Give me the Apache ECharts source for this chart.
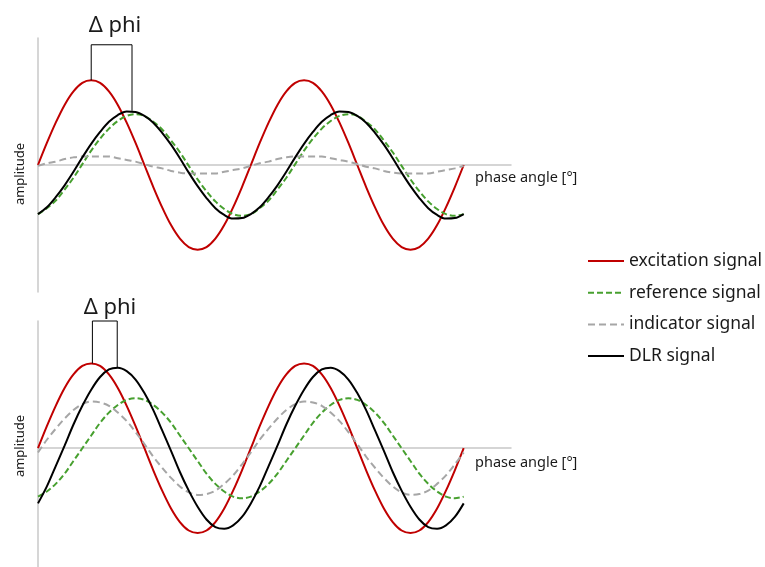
<!DOCTYPE html>
<html>
<head>
<meta charset="utf-8">
<script src="https://cdn.jsdelivr.net/npm/echarts@6/dist/echarts.min.js"></script>
<style>
html,body{margin:0;padding:0;background:#fff;}
#chart{width:765px;height:567px;}
</style>
</head>
<body>
<div id="chart"></div>
<script>
// phase angle samples [°]
const phaseDeg = [0,15,30,45,60,75,90,105,120,135,150,165,180,195,210,225,240,255,270,285,300,315,330,345,
                  360,375,390,405,420,435,450,465,480,495,510,525,540,555,570,585,600,615,630,645,660,675,690,705,720];

// top panel (amplitude, relative units)
const topExcitation = [0,0.26,0.5,0.71,0.87,0.97,1,0.97,0.87,0.71,0.5,0.26,0,-0.26,-0.5,-0.71,-0.87,-0.97,-1,-0.97,-0.87,-0.71,-0.5,-0.26,
                       0,0.26,0.5,0.71,0.87,0.97,1,0.97,0.87,0.71,0.5,0.26,0,-0.26,-0.5,-0.71,-0.87,-0.97,-1,-0.97,-0.87,-0.71,-0.5,-0.26,0];
const topReference  = [-0.58,-0.51,-0.42,-0.29,-0.15,0.01,0.17,0.31,0.43,0.52,0.58,0.60,0.58,0.51,0.42,0.29,0.15,-0.01,-0.17,-0.31,-0.43,-0.52,-0.58,-0.60,
                       -0.58,-0.51,-0.42,-0.29,-0.15,0.01,0.17,0.31,0.43,0.52,0.58,0.60,0.58,0.51,0.42,0.29,0.15,-0.01,-0.17,-0.31,-0.43,-0.52,-0.58,-0.60,-0.58];
const topIndicator  = [-0.01,0.02,0.04,0.07,0.09,0.10,0.10,0.10,0.10,0.08,0.06,0.04,0.01,-0.02,-0.04,-0.07,-0.09,-0.10,-0.10,-0.10,-0.10,-0.08,-0.06,-0.04,
                       -0.01,0.02,0.04,0.07,0.09,0.10,0.10,0.10,0.10,0.08,0.06,0.04,0.01,-0.02,-0.04,-0.07,-0.09,-0.10,-0.10,-0.10,-0.10,-0.08,-0.06,-0.04,-0.01];
const topDLR        = [-0.58,-0.50,-0.38,-0.24,-0.08,0.09,0.25,0.39,0.51,0.59,0.633,0.627,0.58,0.50,0.38,0.24,0.08,-0.09,-0.25,-0.39,-0.51,-0.59,-0.633,-0.627,
                       -0.58,-0.50,-0.38,-0.24,-0.08,0.09,0.25,0.39,0.51,0.59,0.633,0.627,0.58,0.50,0.38,0.24,0.08,-0.09,-0.25,-0.39,-0.51,-0.59,-0.633,-0.627,-0.58];

// bottom panel
const bottomExcitation = [0,0.26,0.5,0.71,0.87,0.97,1,0.97,0.87,0.71,0.5,0.26,0,-0.26,-0.5,-0.71,-0.87,-0.97,-1,-0.97,-0.87,-0.71,-0.5,-0.26,
                          0,0.26,0.5,0.71,0.87,0.97,1,0.97,0.87,0.71,0.5,0.26,0,-0.26,-0.5,-0.71,-0.87,-0.97,-1,-0.97,-0.87,-0.71,-0.5,-0.26,0];
const bottomReference  = [-0.57,-0.51,-0.42,-0.30,-0.15,0,0.15,0.30,0.42,0.51,0.57,0.59,0.57,0.51,0.42,0.30,0.15,0,-0.15,-0.30,-0.42,-0.51,-0.57,-0.59,
                          -0.57,-0.51,-0.42,-0.30,-0.15,0,0.15,0.30,0.42,0.51,0.57,0.59,0.57,0.51,0.42,0.30,0.15,0,-0.15,-0.30,-0.42,-0.51,-0.57,-0.59,-0.57];
const bottomIndicator  = [-0.05,0.10,0.23,0.35,0.45,0.52,0.55,0.54,0.50,0.42,0.32,0.19,0.05,-0.10,-0.23,-0.35,-0.45,-0.52,-0.55,-0.54,-0.50,-0.42,-0.32,-0.19,
                          -0.05,0.10,0.23,0.35,0.45,0.52,0.55,0.54,0.50,0.42,0.32,0.19,0.05,-0.10,-0.23,-0.35,-0.45,-0.52,-0.55,-0.54,-0.50,-0.42,-0.32,-0.19,-0.05];
const bottomDLR        = [-0.65,-0.45,-0.21,0.03,0.28,0.50,0.69,0.84,0.93,0.95,0.91,0.81,0.65,0.45,0.21,-0.03,-0.28,-0.50,-0.69,-0.84,-0.93,-0.95,-0.91,-0.81,
                          -0.65,-0.45,-0.21,0.03,0.28,0.50,0.69,0.84,0.93,0.95,0.91,0.81,0.65,0.45,0.21,-0.03,-0.28,-0.50,-0.69,-0.84,-0.93,-0.95,-0.91,-0.81,-0.65];

// Δ phi brackets
const topBracketX = [90,90,159,159];
const topBracketY = [1.0,1.42,1.42,0.64];
const bottomBracketX = [92,92,134,134];
const bottomBracketY = [1.0,1.5,1.5,0.95];

const seriesNames = ['excitation signal','reference signal','indicator signal','DLR signal'];
const textLabels = ['Δ phi','amplitude','phase angle [°]'];

const colors = {red:'#c00000', green:'#47a02f', gray:'#a6a6a6', black:'#000000'};
const FONT = '"Noto Sans", "Open Sans", sans-serif';

function pairs(xs, ys){ return xs.map((x,i)=>[x, ys[i]]); }

function lineSeries(name, data, idx, color, type, z){
  return {
    name: name, type: 'line', xAxisIndex: idx, yAxisIndex: idx,
    data: pairs(phaseDeg, data), smooth: 0.34, symbol: 'none',
    lineStyle: {color: color, width: 2, type: type},
    itemStyle: {color: color},
    z: z, silent: true, animation: false
  };
}
function bracket(xs, ys, idx){
  return {
    type: 'line', xAxisIndex: idx, yAxisIndex: idx, data: pairs(xs, ys),
    symbol: 'none', clip: false, lineStyle: {color:'#000', width:1},
    z: 10, silent: true, animation: false
  };
}

const axisX = i => ({
  type:'value', gridIndex:i, min:0, max:800,
  axisLine:{show:true, onZero:true, lineStyle:{color:'#c8c8c8', width:1.5}},
  axisTick:{show:false}, axisLabel:{show:false}, splitLine:{show:false}
});
const axisY = (i, mn, mx) => ({
  type:'value', gridIndex:i, min:mn, max:mx,
  axisLine:{show:true, lineStyle:{color:'#c8c8c8', width:1.5}},
  axisTick:{show:false}, axisLabel:{show:false}, splitLine:{show:false}
});

const txt = (x, y, text, size, extra) => Object.assign({
  type:'text', x:x, y:y,
  style:{text:text, fontSize:size, fontFamily:FONT, fill:'#1a1a1a', textAlign:'center', textVerticalAlign:'middle'}
}, extra || {});
const txtL = (x, y, text, size) => ({
  type:'text', x:x, y:y,
  style:{text:text, fontSize:size, fontFamily:FONT, fill:'#1a1a1a', textAlign:'left', textVerticalAlign:'middle'}
});

const chart = echarts.init(document.getElementById('chart'), null, {renderer:'canvas'});
chart.setOption({
  backgroundColor:'#fff',
  animation:false,
  grid:[
    {left:38, top:38, width:473, height:254},
    {left:38, top:321, width:473, height:246}
  ],
  xAxis:[axisX(0), axisX(1)],
  yAxis:[axisY(0,-1.5,1.5), axisY(1,-1.4,1.5)],
  legend:{
    orient:'vertical', left:587, top:251, padding:0, itemWidth:36, itemHeight:14, itemGap:11.7,
    data: seriesNames,
    itemStyle:{opacity:0},
    textStyle:{fontSize:17.5, fontFamily:FONT, color:'#1a1a1a', lineHeight:20}
  },
  series:[
    lineSeries(seriesNames[0], topExcitation, 0, colors.red, 'solid', 2),
    lineSeries(seriesNames[1], topReference, 0, colors.green, [6,3], 3),
    lineSeries(seriesNames[2], topIndicator, 0, colors.gray, [7,4], 3),
    lineSeries(seriesNames[3], topDLR, 0, colors.black, 'solid', 4),
    lineSeries(seriesNames[0], bottomExcitation, 1, colors.red, 'solid', 2),
    lineSeries(seriesNames[1], bottomReference, 1, colors.green, [6,3], 3),
    lineSeries(seriesNames[2], bottomIndicator, 1, colors.gray, [7,4], 3),
    lineSeries(seriesNames[3], bottomDLR, 1, colors.black, 'solid', 4),
    bracket(topBracketX, topBracketY, 0),
    bracket(bottomBracketX, bottomBracketY, 1)
  ],
  graphic:[
    txt(115, 26, textLabels[0], 22),
    txt(110, 308, textLabels[0], 22),
    txt(20, 174, textLabels[1], 13, {rotation:Math.PI/2}),
    txt(20, 446, textLabels[1], 13, {rotation:Math.PI/2}),
    txtL(475, 178, textLabels[2], 14.5),
    txtL(475, 463, textLabels[2], 14.5)
  ]
});
</script>
</body>
</html>
